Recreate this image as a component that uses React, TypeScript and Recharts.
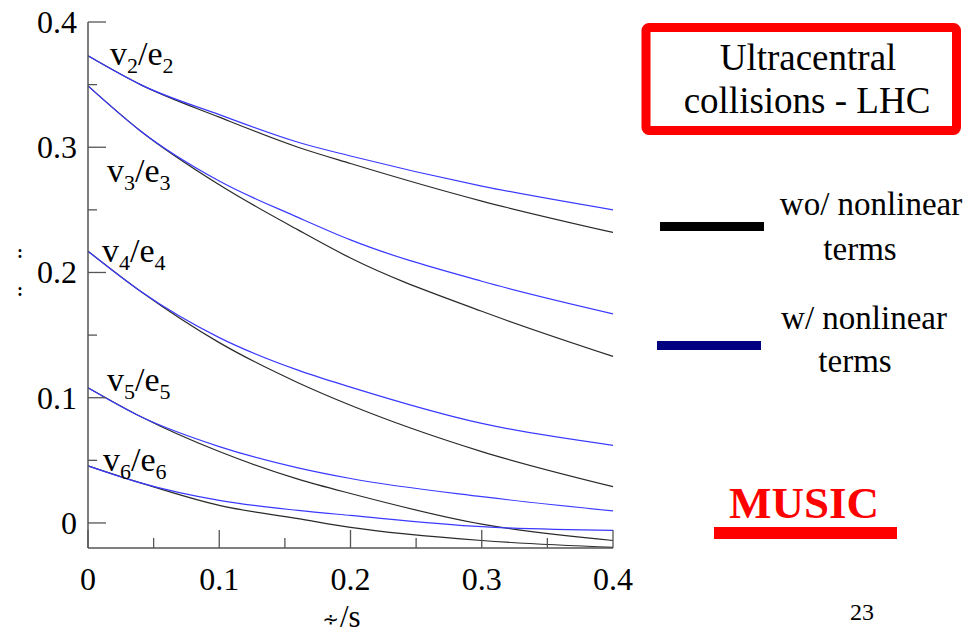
import { LineChart, Line, XAxis, YAxis } from 'recharts'

// η/s grid and the vn/εn response for each harmonic, with and without nonlinear terms
const ETA = [0, 0.04, 0.1, 0.16, 0.2, 0.3, 0.4]
const V2_WO = [0.373, 0.35, 0.324, 0.3, 0.287, 0.257, 0.232]
const V2_W = [0.373, 0.35, 0.326, 0.304, 0.293, 0.269, 0.25]
const V3_WO = [0.349, 0.313, 0.27, 0.234, 0.2115, 0.169, 0.133]
const V3_W = [0.349, 0.313, 0.273, 0.244, 0.226, 0.193, 0.167]
const V4_WO = [0.217, 0.185, 0.144, 0.112, 0.094, 0.057, 0.029]
const V4_W = [0.217, 0.185, 0.148, 0.122, 0.1085, 0.0795, 0.062]
const V5_WO = [0.108, 0.085, 0.057, 0.035, 0.0235, -0.001, -0.014]
const V5_W = [0.108, 0.085, 0.061, 0.044, 0.0355, 0.021, 0.0096]
const V6_WO = [0.0456, 0.032, 0.014, 0.0035, -0.0035, -0.014, -0.0195]
const V6_W = [0.0456, 0.032, 0.018, 0.01, 0.006, -0.003, -0.006]

const X_TICKS = [0, 0.05, 0.1, 0.15, 0.2, 0.25, 0.3, 0.35, 0.4]
const Y_TICKS = [0, 0.05, 0.1, 0.15, 0.2, 0.25, 0.3, 0.35, 0.4]

const HARMONICS = [2, 3, 4, 5, 6]
const WO = [V2_WO, V3_WO, V4_WO, V5_WO, V6_WO]
const W = [V2_W, V3_W, V4_W, V5_W, V6_W]

const SERIF = "'Liberation Serif', Tinos, 'Times New Roman', 'DejaVu Serif', serif"
const AXIS = '#555'
const BLACK = '#2a2a2a'
const BLUE = '#3a3aff'

const data = ETA.map((x, i) => {
  const row: Record<string, number> = { x }
  HARMONICS.forEach((n, k) => {
    row[`wo${n}`] = WO[k][i]
    row[`w${n}`] = W[k][i]
  })
  return row
})

const isMajor = (v: number) => Math.round(v * 100) % 10 === 0
const fmt = (v: number) => (v === 0 ? '0' : v.toFixed(1))
const serif = { fontFamily: SERIF }

function BottomTick({ x, y, payload }: any) {
  const v = payload.value
  const major = isMajor(v)
  return (
    <g>
      <line x1={x} x2={x} y1={y} y2={y - (major ? 18 : 10)} stroke={AXIS} strokeWidth={1.3} />
      {major && (
        <text x={x} y={y + 42} textAnchor="middle" fontSize={32} style={serif} fill="#000">
          {fmt(v)}
        </text>
      )}
    </g>
  )
}

function TopTick({ x, y, payload }: any) {
  const major = isMajor(payload.value)
  return <line x1={x} x2={x} y1={y} y2={y + (major ? 18 : 10)} stroke={AXIS} strokeWidth={1.3} />
}

function LeftTick({ x, y, payload }: any) {
  const v = payload.value
  const major = isMajor(v)
  return (
    <g>
      <line x1={x} x2={x + (major ? 18 : 9)} y1={y} y2={y} stroke={AXIS} strokeWidth={1.3} />
      {major && (
        <text x={x - 11} y={y + 11} textAnchor="end" fontSize={32} style={serif} fill="#000">
          {fmt(v)}
        </text>
      )}
    </g>
  )
}

function RightTick({ x, y, payload }: any) {
  const major = isMajor(payload.value)
  return <line x1={x} x2={x - (major ? 18 : 10)} y1={y} y2={y} stroke={AXIS} strokeWidth={1.3} />
}

function Ratio({ n, x, y }: { n: number; x: number; y: number }) {
  return (
    <text x={x} y={y} fontSize={34} style={serif} fill="#000">
      v<tspan fontSize={22} dy={8}>{n}</tspan>
      <tspan dy={-8}>/e</tspan>
      <tspan fontSize={22} dy={8}>{n}</tspan>
    </text>
  )
}

const RATIO_POS = [
  { n: 2, x: 110, y: 65 },
  { n: 3, x: 107, y: 182 },
  { n: 4, x: 102, y: 262 },
  { n: 5, x: 107, y: 391 },
  { n: 6, x: 103, y: 471 },
]

export default function App() {
  return (
    <div style={{ position: 'relative', width: 972, height: 635, background: '#fff' }}>
      <style>{'body{margin:0}'}</style>
      <LineChart
        width={640}
        height={635}
        data={data}
        margin={{ top: 22, right: 27, bottom: 0, left: 0 }}
      >
        <XAxis
          xAxisId="b"
          dataKey="x"
          type="number"
          domain={[0, 0.4]}
          ticks={X_TICKS}
          interval={0}
          height={87}
          tickSize={0}
          tickMargin={0}
          tickLine={false}
          axisLine={{ stroke: AXIS, strokeWidth: 1.5 }}
          tick={<BottomTick />}
        />
        <XAxis
          xAxisId="t"
          orientation="top"
          type="number"
          domain={[0, 0.4]}
          ticks={X_TICKS}
          interval={0}
          height={0}
          tickSize={0}
          tickMargin={0}
          tickLine={false}
          axisLine={{ stroke: AXIS, strokeWidth: 1.5 }}
          tick={<TopTick />}
        />
        <YAxis
          yAxisId="l"
          type="number"
          domain={[-0.02, 0.4]}
          ticks={Y_TICKS}
          interval={0}
          width={88}
          tickSize={0}
          tickMargin={0}
          tickLine={false}
          allowDataOverflow
          axisLine={{ stroke: AXIS, strokeWidth: 1.5 }}
          tick={<LeftTick />}
        />
        <YAxis
          yAxisId="r"
          orientation="right"
          type="number"
          domain={[-0.02, 0.4]}
          ticks={Y_TICKS}
          interval={0}
          width={0}
          tickSize={0}
          tickMargin={0}
          tickLine={false}
          allowDataOverflow
          axisLine={{ stroke: AXIS, strokeWidth: 1.5 }}
          tick={<RightTick />}
        />
        {HARMONICS.map((n) => (
          <Line
            key={`wo${n}`}
            xAxisId="b"
            yAxisId="l"
            dataKey={`wo${n}`}
            type="monotone"
            stroke={BLACK}
            strokeWidth={1.2}
            dot={false}
            isAnimationActive={false}
          />
        ))}
        {HARMONICS.map((n) => (
          <Line
            key={`w${n}`}
            xAxisId="b"
            yAxisId="l"
            dataKey={`w${n}`}
            type="monotone"
            stroke={BLUE}
            strokeWidth={1.2}
            dot={false}
            isAnimationActive={false}
          />
        ))}
      </LineChart>

      <svg
        width={972}
        height={635}
        style={{ position: 'absolute', left: 0, top: 0, pointerEvents: 'none', fontFamily: SERIF }}
      >
        {RATIO_POS.map((p) => (
          <Ratio key={p.n} {...p} />
        ))}

        {/* axis titles */}
        <text x={20} y={258} textAnchor="middle" fontSize={18} fontWeight="bold">:</text>
        <text x={20} y={296} textAnchor="middle" fontSize={18} fontWeight="bold">:</text>
        <text x={331} y={626} textAnchor="middle" fontSize={20} style={{ fontFamily: 'DejaVu Sans' }}>∻</text>
        <text x={340} y={627} fontSize={31}>/s</text>

        {/* title box */}
        <rect x={646} y={27.5} width={310.5} height={103} rx={3} fill="none" stroke="#ff0000" strokeWidth={9} />
        <text x={808} y={70} textAnchor="middle" fontSize={37}>Ultracentral</text>
        <text x={807} y={113} textAnchor="middle" fontSize={37}>collisions - LHC</text>

        {/* legend */}
        <rect x={660} y={222} width={104} height={9} fill="#000" />
        <text x={871} y={215} textAnchor="middle" fontSize={33}>wo/ nonlinear</text>
        <text x={860} y={260} textAnchor="middle" fontSize={33}>terms</text>
        <rect x={657} y={341} width={104} height={9} fill="#000080" />
        <text x={864} y={329} textAnchor="middle" fontSize={33}>w/ nonlinear</text>
        <text x={855} y={372} textAnchor="middle" fontSize={33}>terms</text>

        {/* code name */}
        <text x={804} y={518} textAnchor="middle" fontSize={45} fontWeight="bold" fill="#ff0000">MUSIC</text>
        <rect x={714} y={527} width={183} height={12} fill="#ff0000" />

        <text x={862} y={620} textAnchor="middle" fontSize={24}>23</text>
      </svg>
    </div>
  )
}
